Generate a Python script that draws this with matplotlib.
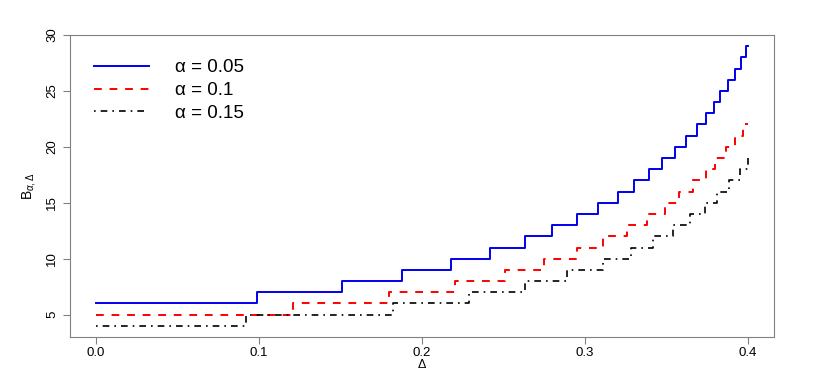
import numpy as np
import matplotlib
matplotlib.use("Agg")
import matplotlib.pyplot as plt

plt.rcParams['font.family'] = ['Liberation Sans', 'DejaVu Sans']
plt.rcParams['mathtext.fontset'] = 'custom'
plt.rcParams['mathtext.rm'] = 'Liberation Sans'
plt.rcParams['mathtext.it'] = 'Liberation Sans:italic'

# values where each step begins (Delta), and the level reached there
blue_start = 6
blue_breaks = [0.099, 0.151, 0.188, 0.218, 0.242, 0.263, 0.280, 0.295, 0.308, 0.320,
               0.330, 0.339, 0.347, 0.355, 0.362, 0.3685, 0.374, 0.379, 0.383, 0.388,
               0.392, 0.396, 0.399]
blue_levels = list(range(7, 30))

red_start = 5
red_breaks = [0.121, 0.180, 0.220, 0.251, 0.275, 0.295, 0.311, 0.326, 0.338, 0.349,
              0.358, 0.366, 0.374, 0.380, 0.3865, 0.392, 0.397]
red_levels = list(range(6, 23))

black_start = 4
black_breaks = [0.092, 0.182, 0.229, 0.263, 0.289, 0.311, 0.328, 0.342, 0.354, 0.3645,
                0.3735, 0.381, 0.3885, 0.395, 0.400]
black_levels = list(range(5, 20))

x_end = 0.4
labels = ['α = 0.05', 'α = 0.1', 'α = 0.15']

fig = plt.figure(figsize=(8.3, 3.74), dpi=100)
ax = fig.add_axes([70/830, 37/374, 704/830, 302/374])

def series(start, breaks, levels):
    x = [0.0] + breaks + [x_end]
    y = [start] + levels + [levels[-1]]
    return x, y

x, y = series(blue_start, blue_breaks, blue_levels)
ax.step(x, y, where='post', color='#0000ee', lw=1.4, label=labels[0])
x, y = series(red_start, red_breaks, red_levels)
ax.step(x, y, where='post', color='#ff0000', lw=1.4, ls=(0, (4, 4)), label=labels[1])
x, y = series(black_start, black_breaks, black_levels)
ax.step(x, y, where='post', color='black', lw=1.2, ls=(0, (1, 3, 4, 3)), label=labels[2])

ax.set_xlim(-0.016, 0.416)
ax.set_ylim(3, 30)
ax.set_xticks([0.0, 0.1, 0.2, 0.3, 0.4])
ax.set_xticklabels(['0.0', '0.1', '0.2', '0.3', '0.4'])
ax.set_yticks([5, 10, 15, 20, 25, 30])
for lab in ax.get_yticklabels():
    lab.set_rotation(90)
    lab.set_va('center')
ax.tick_params(labelsize=9.5, color='#808080', length=5)
ax.tick_params(axis='x', pad=2)
for s in ax.spines.values():
    s.set_color('#808080')

ax.set_xlabel('Δ', fontsize=9, labelpad=0)
ax.set_ylabel(r'$\mathrm{B}_{\alpha,\Delta}$', fontsize=10, labelpad=6)

ax.legend(loc='upper left', frameon=False, fontsize=13.5, handlelength=2.9,
          handletextpad=1.4, labelspacing=0.3, borderaxespad=0.9)

fig.savefig('out.png', dpi=100)
